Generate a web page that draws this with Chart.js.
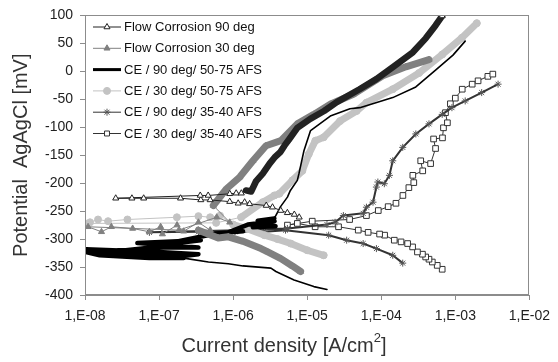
<!DOCTYPE html>
<html>
<head>
<meta charset="utf-8">
<script src="https://cdn.jsdelivr.net/npm/chart.js@4.4.1/dist/chart.umd.min.js"></script>
<style>
  html, body { margin: 0; padding: 0; background: #fff; }
</style>
</head>
<body>
<canvas id="tafelChart" width="558" height="362"></canvas>
<script>
// x axis decades, current density in A/cm2
const decades = [1e-8, 1e-7, 1e-6, 1e-5, 1e-4, 1e-3, 1e-2];
const seriesNames = [
  'Flow Corrosion 90 deg',
  'Flow Corrosion 30 deg',
  'CE / 90 deg/ 50-75 AFS',
  'CE / 30 deg/ 50-75 AFS',
  'CE / 90 deg/ 35-40 AFS',
  'CE / 30 deg/ 35-40 AFS'
];

// Flow Corrosion 90 deg (scan order: cathodic end -> Ecorr -> anodic)
const fc90Current = [7.8e-6, 6.7e-6, 5.4e-6, 4.4e-6, 3.4e-6, 2.8e-6, 1.67e-6, 1.43e-6, 1.17e-6, 9.0e-7, 4.9e-7, 3.66e-7, 1.95e-7, 6.2e-8, 4.3e-8, 2.6e-8,
  3.6e-7, 4.6e-7, 9.0e-7, 1.1e-6, 1.29e-6, 1.49e-6, 1.75e-6, 2.03e-6, 2.51e-6, 3.11e-6, 3.63e-6, 4.37e-6, 4.93e-6, 5.75e-6, 7.36e-6, 1.1e-5, 1.69e-5, 2.51e-5, 5.09e-5, 8.58e-5, 1.45e-4, 2.67e-4, 3.98e-4, 5.41e-4, 6.65e-4];
const fc90Potential = [-261, -256, -253, -249, -243, -240, -237, -234, -236, -233, -230, -230, -227, -227, -227, -227,
  -222, -222, -219, -218, -218, -213, -215, -197, -183, -165, -154, -144, -133, -121, -101, -85, -71, -55, -32, -14, 8, 34, 59, 82, 99];

// Flow Corrosion 30 deg
const fc30Current = [8.15e-6, 6.31e-6, 4.41e-6, 2.93e-6, 2.38e-6, 1.36e-6, 8.6e-7, 6.3e-7, 3.4e-7, 4.9e-7, 3.4e-7, 2.15e-7, 1.75e-7, 1.11e-7, 1.05e-7, 7.4e-8, 4.4e-8, 2.27e-8, 1.67e-8, 1.1e-8,
  1.85e-7, 6.0e-7, 9.0e-7, 5.4e-7, 8.15e-7, 1.23e-6, 1.85e-6, 2.78e-6, 4.41e-6, 7.36e-6, 1.23e-5, 2.05e-5, 4.2e-5, 1.05e-4, 2.15e-4, 4.41e-4];
const fc30Potential = [-358, -348, -335, -323, -317, -304, -296, -298, -284, -284, -270, -286, -275, -291, -278, -287, -281, -278, -287, -278,
  -284, -261, -270, -240, -210, -189, -160, -133, -124, -94, -77, -59, -41, -8, 8, 21];

// CE / 90 deg/ 50-75 AFS
const ce90aCurrent = [1.85e-5, 1.23e-5, 6.65e-6, 3.78e-6, 3.24e-6, 1.36e-6, 8.6e-7, 4.64e-7, 2.15e-7, 7.4e-8, 1.58e-8, 1.03e-8, 2.93e-8, 1.03e-8, 1.0e-7, 3.4e-7, 1.85e-7, 2.15e-8, 7.8e-8, 3.4e-7, 5.1e-8, 3.66e-7, 1.0e-7, 5.9e-7,
  1.36e-6, 8.6e-7, 1.58e-6, 3.63e-6, 1.85e-6, 3.74e-6, 2.15e-6, 3.6e-6, 4.37e-6, 5.41e-6, 5.93e-6, 7.36e-6, 7.74e-6, 9.04e-6, 1.11e-5, 2.05e-5, 3.78e-5, 5.14e-5, 1.43e-4, 2.93e-4, 5.41e-4, 9.3e-4, 1.36e-3];
const ce90aPotential = [-390, -385, -373, -358, -352, -348, -344, -341, -334, -334, -329, -323, -327, -318, -323, -327, -331, -323, -315, -315, -307, -302, -311, -290,
  -286, -288, -274, -268, -279, -277, -267, -263, -242, -225, -213, -195, -183, -142, -106, -80, -67, -65, -47, -28, 2, 29, 54];

// CE / 30 deg/ 50-75 AFS
const ce30aCurrent = [1.67e-5, 1.0e-5, 6.0e-6, 3.98e-6, 2.65e-6, 1.58e-6, 1.0e-6, 6.65e-7, 4.9e-7, 3.4e-7, 1.74e-7, 3.74e-8, 2.05e-8, 1.5e-8, 1.17e-8, 1.01e-8, 5.9e-7,
  1.28e-6, 2.51e-6, 3.6e-6, 4.2e-6, 6.31e-6, 8.6e-6, 1.05e-5, 1.29e-5, 1.67e-5, 2.78e-5, 4.64e-5, 6.31e-5, 1.43e-4, 3.24e-4, 6.65e-4, 1.23e-3, 1.95e-3];
const ce30aPotential = [-329, -320, -308, -300, -293, -282, -274, -258, -261, -259, -261, -265, -268, -265, -270, -272, -271,
  -261, -234, -222, -219, -195, -178, -148, -124, -118, -89, -71, -56, -32, -3, 30, 60, 86];

// CE / 90 deg/ 35-40 AFS
const ce90bCurrent = [1.95e-4, 1.43e-4, 8.6e-5, 5.7e-5, 3.41e-5, 1.95e-5, 5.1e-6, 2.65e-6, 1.06e-6, 3.4e-7, 7.4e-8,
  1.17e-6, 5.4e-6, 1.85e-5, 2.38e-5, 3.08e-5, 5.7e-5, 6.31e-5, 7.74e-5, 8.6e-5, 9.0e-5, 1.1e-4, 1.29e-4, 1.43e-4, 1.95e-4, 2.93e-4, 4.41e-4, 6.65e-4, 9.0e-4, 1.36e-3, 2.27e-3, 3.78e-3];
const ce90bPotential = [-343, -329, -317, -308, -302, -293, -284, -287, -287, -287, -288,
  -284, -281, -274, -270, -258, -254, -243, -234, -207, -198, -201, -186, -160, -136, -112, -94, -77, -65, -53, -38, -23];

// CE / 30 deg/ 35-40 AFS
const ce30bCurrent = [6.65e-4, 5.7e-4, 4.89e-4, 4.41e-4, 3.98e-4, 3.6e-4, 3.08e-4, 2.65e-4, 2.27e-4, 1.85e-4, 1.5e-4, 1.11e-4, 9.5e-5, 6.65e-5, 4.89e-5, 2.65e-5, 1.28e-5, 7.36e-6, 5.41e-6,
  1.17e-5, 3.74e-5, 6.31e-5, 9.12e-5, 1.24e-4, 1.58e-4, 1.96e-4, 2.36e-4, 2.75e-4, 2.67e-4, 3.63e-4, 3.41e-4, 4.64e-4, 5.41e-4, 5.09e-4, 6.71e-4, 6.92e-4, 7.82e-4, 7.36e-4, 8.58e-4, 1.0e-3, 1.24e-3, 1.69e-3, 2.03e-3, 2.75e-3, 3.21e-3];
const ce30bPotential = [-354, -347, -341, -336, -332, -327, -323, -314, -308, -305, -302, -293, -291, -288, -284, -278, -278, -272, -275,
  -268, -265, -258, -249, -242, -236, -222, -208, -199, -186, -178, -160, -165, -138, -121, -119, -101, -92, -74, -58, -48, -32, -23, -17, -9, -5];

const FONT = '"Liberation Sans", Arial, sans-serif';

function points(cur, pot) {
  return cur.map((c, i) => ({ x: c, y: pot[i] }));
}

// thicker line where the original markers are packed into a band
function thick(ranges, w) {
  return ctx => ranges.some(r => ctx.p0DataIndex >= r[0] && ctx.p0DataIndex <= r[1]) ? w : undefined;
}

const datasets = [
  {
    label: seriesNames[0],
    data: points(fc90Current, fc90Potential),
    borderColor: '#222', borderWidth: 1,
    pointStyle: 'triangle', pointBackgroundColor: '#fff', pointBorderColor: '#222', pointBorderWidth: 1,
    pointRadius: ctx => (ctx.dataIndex >= 21 && ctx.dataIndex < 40) ? 0 : 3.5,
    segment: { borderWidth: thick([[21, 39]], 6.5) },
    legendLine: 1
  },
  {
    label: seriesNames[1],
    data: points(fc30Current, fc30Potential),
    borderColor: '#808080', borderWidth: 1,
    pointStyle: 'triangle', pointBackgroundColor: '#808080', pointBorderColor: '#808080', pointBorderWidth: 1,
    pointRadius: 3.5,
    segment: { borderWidth: thick([[0, 7], [23, 34]], 7) },
    legendLine: 1
  },
  {
    label: seriesNames[2],
    data: points(ce90aCurrent, ce90aPotential),
    borderColor: '#000', borderWidth: 1.6,
    pointRadius: 0,
    segment: { borderWidth: thick([[8, 30]], 4.5) },
    legendLine: 3
  },
  {
    label: seriesNames[3],
    data: points(ce30aCurrent, ce30aPotential),
    borderColor: '#c3c3c3', borderWidth: 1,
    pointStyle: 'circle', pointBackgroundColor: '#c3c3c3', pointBorderColor: '#c3c3c3', pointBorderWidth: 1,
    pointRadius: 3.5,
    segment: { borderWidth: thick([[0, 5], [17, 32]], 7) },
    legendLine: 1
  },
  {
    label: seriesNames[4],
    data: points(ce90bCurrent, ce90bPotential),
    borderColor: '#333', borderWidth: 2,
    pointStyle: 'star', pointBackgroundColor: '#555', pointBorderColor: '#555', pointBorderWidth: 1,
    pointRadius: 3.5,
    legendLine: 1
  },
  {
    label: seriesNames[5],
    data: points(ce30bCurrent, ce30bPotential),
    borderColor: '#333', borderWidth: 1,
    pointStyle: 'rect', pointBackgroundColor: '#fff', pointBorderColor: '#333', pointBorderWidth: 1,
    pointRadius: 4,
    legendLine: 1
  }
];

function fmtDecade(v) {
  const e = Math.round(Math.log10(v));
  return '1,E' + (e < 0 ? '-' : '+') + String(Math.abs(e)).padStart(2, '0');
}

// frame, in-plot legend and x title
const extras = {
  id: 'extras',
  afterDatasetsDraw(chart) {
    const { ctx, chartArea: a } = chart;
    ctx.save();
    ctx.strokeStyle = '#8c8c8c';
    ctx.lineWidth = 1;
    ctx.strokeRect(Math.round(a.left) + 0.5, Math.round(a.top) + 0.5, Math.round(a.width) - 1, Math.round(a.height) - 1);
    ctx.restore();
  },
  afterDraw(chart) {
    const ctx = chart.ctx;
    ctx.save();
    chart.data.datasets.forEach((ds, i) => {
      const y = 27 + i * 21.3;
      ctx.strokeStyle = ds.borderColor;
      ctx.lineWidth = ds.legendLine;
      ctx.beginPath();
      ctx.moveTo(93, y);
      ctx.lineTo(121, y);
      ctx.stroke();
      if (ds.pointStyle) {
        ctx.fillStyle = ds.pointBackgroundColor;
        ctx.strokeStyle = ds.pointBorderColor;
        ctx.lineWidth = 1;
        Chart.helpers.drawPoint(ctx, { pointStyle: ds.pointStyle, radius: 3.5, rotation: 0, borderWidth: 1 }, 107, y);
      }
      ctx.fillStyle = '#111';
      ctx.font = '13px ' + FONT;
      ctx.textAlign = 'left';
      ctx.textBaseline = 'middle';
      ctx.fillText(ds.label, 124, y + 0.5);
    });

    // x axis title with superscript
    const t1 = 'Current density [A/cm', t2 = '2', t3 = ']';
    ctx.fillStyle = '#333';
    ctx.textBaseline = 'middle';
    ctx.font = '20px ' + FONT;
    const w1 = ctx.measureText(t1).width, w3 = ctx.measureText(t3).width;
    ctx.font = '13px ' + FONT;
    const w2 = ctx.measureText(t2).width;
    let x = 284 - (w1 + w2 + w3) / 2;
    const y = 346;
    ctx.font = '20px ' + FONT;
    ctx.fillText(t1, x, y);
    ctx.font = '13px ' + FONT;
    ctx.fillText(t2, x + w1, y - 8);
    ctx.font = '20px ' + FONT;
    ctx.fillText(t3, x + w1 + w2, y);
    ctx.restore();
  }
};

new Chart(document.getElementById('tafelChart'), {
  type: 'scatter',
  data: { datasets },
  options: {
    responsive: false,
    animation: false,
    devicePixelRatio: 1,
    showLine: true,
    layout: { padding: { top: 14, right: 23, left: 0, bottom: 0 } },
    elements: {
      line: { tension: 0, borderJoinStyle: 'round', borderCapStyle: 'round' }
    },
    plugins: {
      legend: { display: false },
      tooltip: { enabled: false }
    },
    scales: {
      x: {
        type: 'logarithmic',
        min: 1e-8,
        max: 1e-2,
        afterBuildTicks: scale => { scale.ticks = decades.map(v => ({ value: v })); },
        afterFit: scale => { scale.height = 67; },
        ticks: {
          autoSkip: false, maxRotation: 0, padding: 8,
          color: '#222', font: { size: 14, family: FONT },
          callback: v => fmtDecade(v)
        },
        grid: { drawOnChartArea: false, tickLength: 5, color: '#8c8c8c' },
        border: { color: '#8c8c8c' }
      },
      y: {
        min: -400,
        max: 100,
        afterFit: scale => { scale.width = 85; },
        ticks: {
          stepSize: 50, padding: 7,
          color: '#222', font: { size: 14, family: FONT },
          callback: v => String(v)
        },
        grid: { drawOnChartArea: false, tickLength: 5, color: '#8c8c8c' },
        border: { color: '#8c8c8c' },
        title: {
          display: true,
          text: 'Potential  AgAgCl [mV]',
          color: '#333',
          font: { size: 20, family: FONT },
          padding: { top: 9, bottom: 0 }
        }
      }
    }
  },
  plugins: [extras]
});
</script>
</body>
</html>
